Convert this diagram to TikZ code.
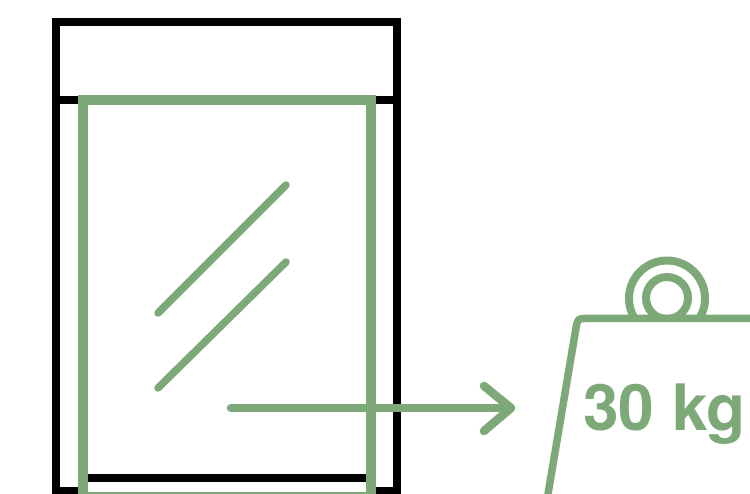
\documentclass[tikz,border=0pt]{standalone}
\usepackage{fontspec}
\setmainfont{TeX Gyre Heros}
\definecolor{leaf}{HTML}{7DA978}
\tikzset{
  blk/.style={draw=black,line width=8pt,line cap=butt,line join=miter},
  grn/.style={draw=leaf,line width=10pt,line join=miter},
  grnr/.style={draw=leaf,line width=7.5pt,line cap=round,line join=round},
}
\begin{document}
\begin{tikzpicture}[x=1pt,y=-1pt]
\useasboundingbox (0,0) rectangle (750,494);
\clip (0,0) rectangle (750,494);
\fill[white] (0,0) rectangle (750,494);
% cabinet
\draw[blk] (56,520) -- (56,22) -- (397,22) -- (397,520);
\draw[blk] (56,100) -- (397,100);
\draw[blk] (56,491) -- (397,491);
\draw[blk] (82,477.5) -- (371,477.5);
% sliding panel
\draw[grn] (82.5,520) -- (82.5,100.5) -- (371,100.5) -- (371,520);
\fill[white] (88,483) rectangle (366,494);
\draw[leaf,line width=3pt] (82.5,493) -- (371,493);
% glass marks
\draw[grnr] (158,313) -- (286,185);
\draw[grnr] (158,388) -- (286,262);
% arrow
\coordinate (arrowstart) at (231,408);
\coordinate (arrowend) at (511,408);
\draw[grnr,line width=8.5pt] (arrowstart) -- (arrowend);
\draw[grnr,line width=8.5pt] (484,386) -- (arrowend) -- (484,431);
% weight
\begin{scope}
\clip (600,240) rectangle (750,318);
\draw[leaf,line width=8pt] (667,298.5) circle (38);
\draw[leaf,line width=8pt] (667,298) circle (21);
\end{scope}
\draw[grnr] (547,500) -- (576.5,325) .. controls (577.5,320) and (579,318.5) .. (584,318.5) -- (760,318.5);
\node[text=leaf,inner sep=0pt,anchor=base west,font=\fontsize{64}{64}\selectfont\bfseries] (label) at (583,430) {30 kg};
\end{tikzpicture}
\end{document}
